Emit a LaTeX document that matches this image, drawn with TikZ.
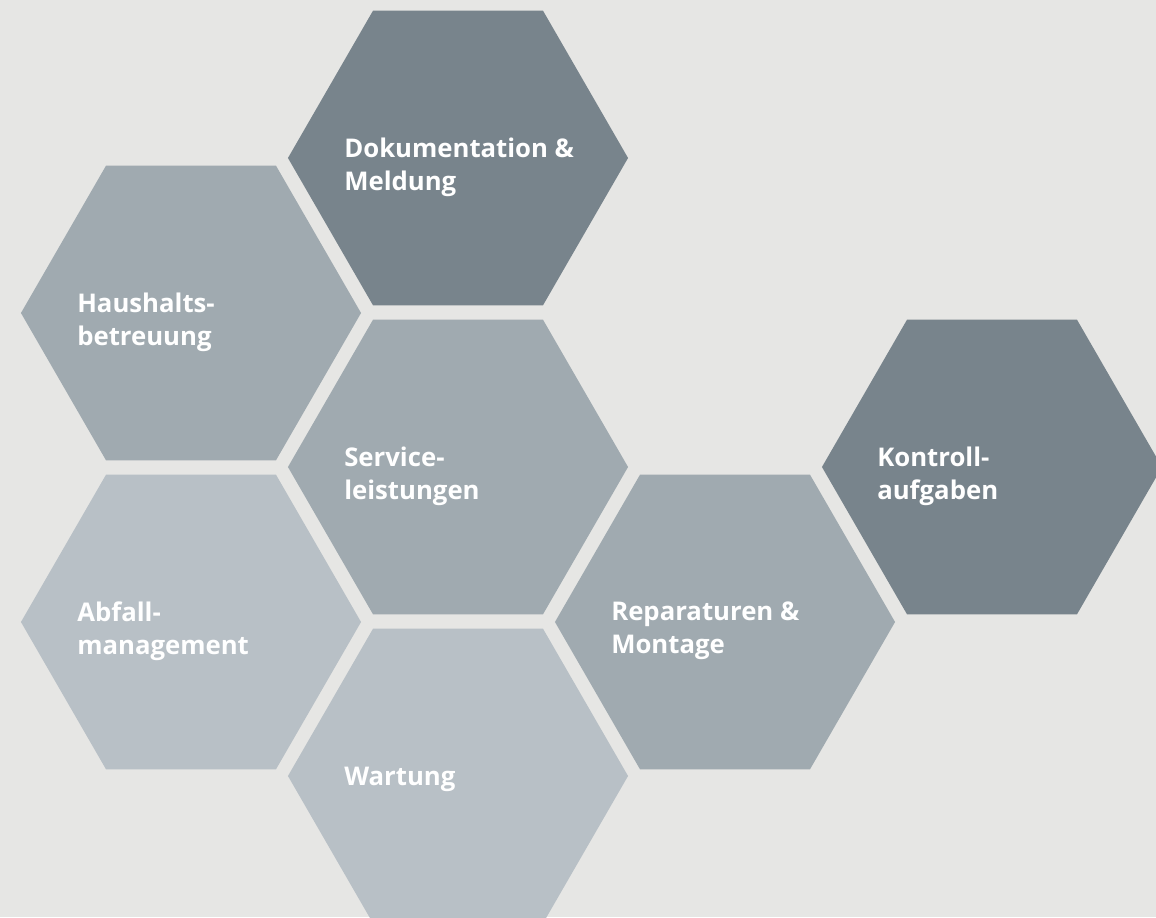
\documentclass[tikz,border=0pt]{standalone}
\usepackage{fontspec}
\setsansfont{Open Sans}
\usetikzlibrary{shapes.geometric}
\definecolor{backgr}{HTML}{E6E6E4}
\definecolor{hexdark}{HTML}{78848C}
\definecolor{hexmid}{HTML}{A0AAB0}
\definecolor{hexlight}{HTML}{B8C0C6}

\tikzset{
  hexa/.style={regular polygon, regular polygon sides=6, minimum size=8.5cm,
    inner sep=0pt, outer sep=0pt, draw=none},
  hextext/.style={anchor=west, align=left, text=white, inner sep=0pt,
    font=\sffamily\bfseries\fontsize{18.3}{23.4}\selectfont}
}

\begin{document}
\begin{tikzpicture}[x=0.025cm, y=0.025cm]
            \useasboundingbox (0,0) rectangle (1156,917);
            \fill[backgr] (0,0) rectangle (1156,917);
            \clip (0,0) rectangle (1156,917);

            % honeycomb
            \node[hexa, fill=hexdark] (doku) at (458,759) {};
            \node[hexa, fill=hexmid] (haus) at (191,604) {};
            \node[hexa, fill=hexmid] (service) at (458,450) {};
            \node[hexa, fill=hexlight] (abfall) at (191,295) {};
            \node[hexa, fill=hexlight] (wartung) at (458,141) {};
            \node[hexa, fill=hexmid] (repar) at (725,295) {};
            \node[hexa, fill=hexdark] (kontroll) at (992,450) {};

            % labels
            \node[hextext] (doku-t) at (344,750) {Dokumentation \&\\Meldung};
            \node[hextext] (haus-t) at (77,595) {Haushalts-\\betreuung};
            \node[hextext] (service-t) at (344,441) {Service-\\leistungen};
            \node[hextext] (abfall-t) at (77,286) {Abfall-\\management};
            \node[hextext] (wartung-t) at (344,138) {Wartung};
            \node[hextext] (repar-t) at (611,286) {Reparaturen \&\\Montage};
            \node[hextext] (kontroll-t) at (877,441) {Kontroll-\\aufgaben};
        \end{tikzpicture}
\end{document}
